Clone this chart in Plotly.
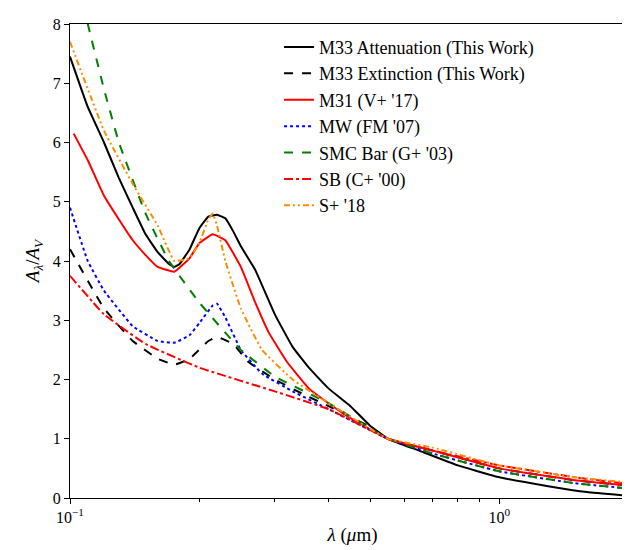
import plotly.graph_objects as go

att_x=[0.1,0.11,0.12,0.13,0.14,0.15,0.16,0.17,0.175,0.18,0.19,0.2,0.21,0.22,0.23,0.24,0.25,0.27,0.3,0.33,0.36,0.4,0.45,0.5,0.55,0.65,0.8,1.0,1.3,1.6,2.07]
att_y=[7.45,6.6,6.0,5.4,4.9,4.45,4.15,3.95,3.9,3.95,4.2,4.55,4.75,4.78,4.72,4.5,4.25,3.85,3.1,2.55,2.2,1.85,1.55,1.22,1.0,0.8,0.55,0.35,0.2,0.1,0.03]
ext_x=[0.1,0.12,0.14,0.16,0.175,0.19,0.21,0.22,0.24,0.26,0.3,0.35,0.4,0.5,0.55,0.7,1.0,1.5,2.07]
ext_y=[4.2,3.2,2.65,2.35,2.25,2.35,2.65,2.72,2.6,2.3,2.0,1.75,1.55,1.2,1.0,0.8,0.5,0.3,0.2]
m31_x=[0.102,0.11,0.12,0.13,0.14,0.15,0.16,0.175,0.19,0.2,0.215,0.23,0.25,0.27,0.29,0.32,0.36,0.4,0.45,0.55,0.7,1.0,1.5,2.07]
m31_y=[6.15,5.7,5.1,4.7,4.35,4.1,3.9,3.82,4.05,4.3,4.45,4.35,3.9,3.3,2.8,2.3,1.85,1.6,1.35,1.0,0.8,0.5,0.3,0.2]
mw_x=[0.1,0.11,0.12,0.14,0.16,0.175,0.19,0.2,0.215,0.22,0.23,0.25,0.28,0.33,0.4,0.55,0.7,1.0,1.5,2.07]
mw_y=[4.9,4.0,3.5,2.9,2.65,2.62,2.75,2.95,3.25,3.28,3.05,2.5,2.1,1.8,1.5,1.0,0.75,0.45,0.25,0.15]
smc_x=[0.105,0.11,0.12,0.13,0.15,0.17,0.2,0.25,0.3,0.4,0.55,0.7,1.0,1.5,2.07]
smc_y=[8.6,8.0,6.9,6.0,4.8,4.0,3.3,2.5,2.05,1.6,1.0,0.75,0.45,0.25,0.15]
sb_x=[0.1,0.12,0.15,0.2,0.3,0.4,0.55,0.7,1.0,1.5,2.07]
sb_y=[3.75,3.1,2.6,2.2,1.8,1.5,1.0,0.8,0.55,0.35,0.22]
s18_x=[0.1,0.12,0.14,0.16,0.175,0.19,0.2,0.21,0.215,0.22,0.23,0.25,0.28,0.33,0.4,0.55,0.7,1.0,1.5,2.07]
s18_y=[7.7,6.2,5.3,4.6,4.0,4.05,4.3,4.7,4.8,4.6,4.0,3.2,2.5,2.0,1.6,1.0,0.85,0.55,0.35,0.25]

series=[("M33 Attenuation (This Work)",att_x,att_y,"black","solid"),
("M33 Extinction (This Work)",ext_x,ext_y,"black","dash"),
("M31 (V+ '17)",m31_x,m31_y,"red","solid"),
("MW (FM '07)",mw_x,mw_y,"blue","dot"),
("SMC Bar (G+ '03)",smc_x,smc_y,"green","dash"),
("SB (C+ '00)",sb_x,sb_y,"red","dashdot"),
("S+ '18",s18_x,s18_y,"darkorange","6px,3px,2px,3px,2px,3px")]
fig=go.Figure()
for n,x,y,c,d in series:
    fig.add_trace(go.Scatter(x=x,y=y,name=n,mode="lines",line=dict(color=c,dash=d,width=2,shape="spline",smoothing=0.3)))
ax=dict(showline=True,linecolor="black",mirror=True,ticks="outside",showgrid=False,zeroline=False,tickcolor="black")
fig.update_layout(width=630,height=550,plot_bgcolor="white",paper_bgcolor="white",
 margin=dict(l=62,r=3,t=16,b=60),font=dict(family="Liberation Serif",size=16,color="black"),
 xaxis=dict(type="log",range=[-1,0.316],tickvals=[0.1,1],ticktext=["10<sup>−1</sup>","10<sup>0</sup>"],
   minor=dict(ticks="outside",tickvals=[0.2,0.3,0.4,0.5,0.6,0.7,0.8,0.9,2],ticklen=3,tickcolor="black"),
   title=dict(text="<i>λ</i> (<i>μ</i>m)",standoff=2),**ax),
 yaxis=dict(range=[0,8],dtick=1,title=dict(text="<i>A<sub>λ</sub></i>/<i>A<sub>V</sub></i>",standoff=8),**ax),
 legend=dict(x=0.37,y=0.99,xanchor="left",yanchor="top",bgcolor="rgba(255,255,255,0.8)",font=dict(size=18),tracegroupgap=0))
fig.write_html("out.html")
